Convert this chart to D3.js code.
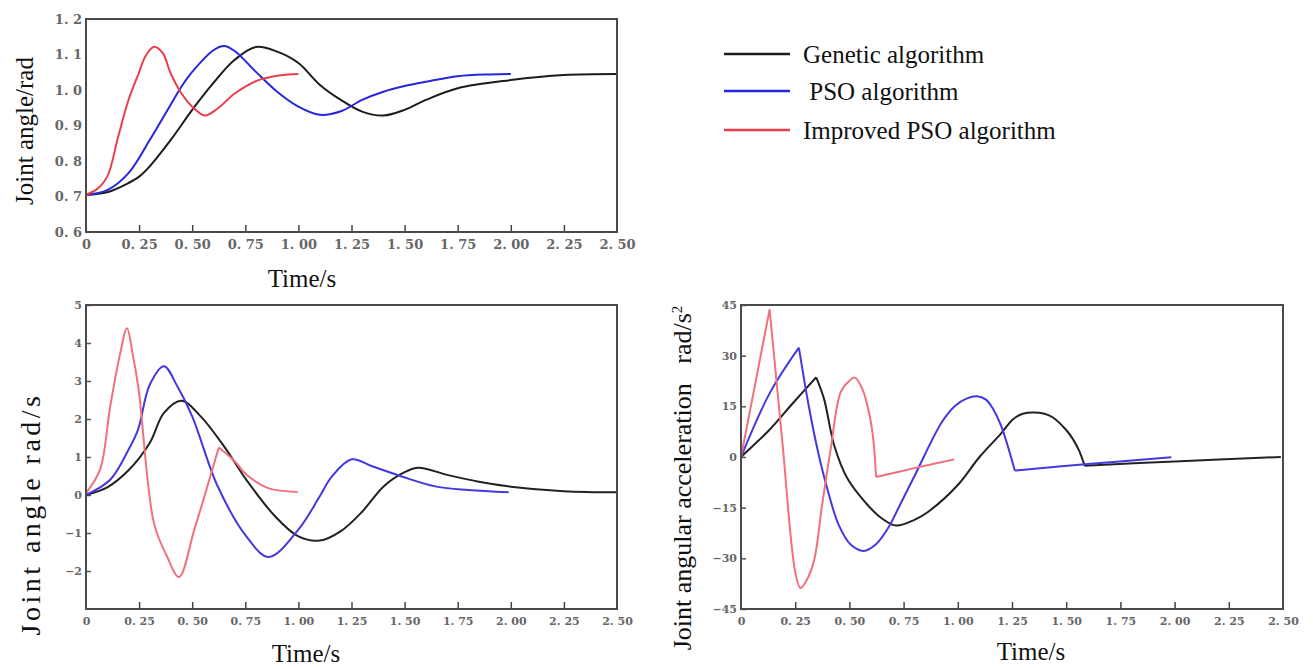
<!DOCTYPE html>
<html>
<head>
<meta charset="utf-8">
<script src="https://cdn.jsdelivr.net/npm/d3@7"></script>
<style>
  body { margin: 0; background: #fff; }
  svg { display: block; }
</style>
</head>
<body>
<div id="chart-area"></div>
<script>
// Data
// ****
const seriesNames = ["Genetic algorithm", " PSO algorithm", "Improved PSO algorithm"]
const xTicks = [0, 0.25, 0.5, 0.75, 1.0, 1.25, 1.5, 1.75, 2.0, 2.25, 2.5]

// joint angle (rad)
const angleTicks = [0.6, 0.7, 0.8, 0.9, 1.0, 1.1, 1.2]
const angleGA_t = [0, 0.1, 0.2, 0.25, 0.3, 0.4, 0.5, 0.6, 0.7, 0.8, 0.9, 1.0, 1.1, 1.2, 1.3, 1.4, 1.5, 1.6, 1.75, 2.0, 2.25, 2.5]
const angleGA   = [0.705, 0.712, 0.738, 0.756, 0.785, 0.86, 0.944, 1.02, 1.085, 1.121, 1.108, 1.076, 1.015, 0.972, 0.939, 0.928, 0.944, 0.972, 1.005, 1.028, 1.042, 1.045]
const anglePSO_t = [0, 0.1, 0.2, 0.3, 0.4, 0.45, 0.5, 0.6, 0.65, 0.7, 0.8, 0.9, 1.0, 1.1, 1.2, 1.3, 1.4, 1.5, 1.6, 1.75, 1.9, 2.0]
const anglePSO   = [0.705, 0.718, 0.766, 0.859, 0.96, 1.01, 1.051, 1.112, 1.124, 1.11, 1.051, 0.995, 0.953, 0.93, 0.94, 0.972, 0.995, 1.011, 1.023, 1.039, 1.044, 1.045]
const angleIPSO_t = [0, 0.05, 0.1, 0.15, 0.2, 0.25, 0.28, 0.32, 0.36, 0.4, 0.45, 0.5, 0.56, 0.62, 0.7, 0.8, 0.9, 1.0]
const angleIPSO   = [0.705, 0.72, 0.756, 0.865, 0.972, 1.05, 1.095, 1.122, 1.105, 1.045, 0.99, 0.953, 0.928, 0.948, 0.99, 1.025, 1.04, 1.045]

// joint angular velocity (rad/s)
const velTicks = [-2, -1, 0, 1, 2, 3, 4, 5]
const velGA_t = [0, 0.1, 0.2, 0.3, 0.367, 0.45, 0.54, 0.65, 0.755, 0.89, 1.0, 1.1, 1.2, 1.3, 1.4, 1.5, 1.565, 1.7, 1.85, 2.0, 2.25, 2.5]
const velGA   = [0, 0.2, 0.65, 1.37, 2.16, 2.48, 2.07, 1.28, 0.4, -0.56, -1.09, -1.2, -0.95, -0.44, 0.22, 0.6, 0.72, 0.53, 0.35, 0.22, 0.1, 0.07]
const velPSO_t = [0, 0.114, 0.2, 0.245, 0.3, 0.367, 0.43, 0.5, 0.62, 0.755, 0.86, 1.0, 1.1, 1.158, 1.251, 1.35, 1.49, 1.65, 1.8, 1.99]
const velPSO   = [0, 0.4, 1.19, 1.72, 2.9, 3.39, 2.86, 2.07, 0.23, -1.09, -1.63, -0.91, -0.04, 0.49, 0.94, 0.75, 0.48, 0.22, 0.13, 0.07]
const velIPSO_t = [0, 0.066, 0.114, 0.16, 0.193, 0.22, 0.248, 0.32, 0.38, 0.438, 0.51, 0.57, 0.625, 0.7, 0.755, 0.858, 0.997]
const velIPSO   = [0.05, 0.67, 2.33, 3.7, 4.39, 3.7, 2.77, -0.74, -1.6, -2.16, -0.91, 0.2, 1.25, 0.89, 0.54, 0.18, 0.08]
const velIPSO_kinks = [0.625]

// joint angular acceleration (rad/s^2); kinks = times of the sharp corners
const accTicks = [-45, -30, -15, 0, 15, 30, 45]
const accGA_t = [0, 0.07, 0.135, 0.243, 0.347, 0.383, 0.43, 0.491, 0.584, 0.65, 0.716, 0.8, 0.864, 1.0, 1.1, 1.2, 1.255, 1.3, 1.347, 1.4, 1.439, 1.5, 1.531, 1.56, 1.585, 2.0, 2.49]
const accGA   = [0, 4.2, 8.3, 16.2, 23.6, 17.2, 3.4, -6.4, -14.2, -18.2, -20.3, -18.6, -16.2, -8.3, 0, 7, 11.2, 12.8, 13.2, 12.8, 11.7, 8, 5.3, 1.8, -2.6, -1.3, 0]
const accGA_kinks = [0.347, 1.585]
const accPSO_t = [0, 0.135, 0.267, 0.31, 0.352, 0.39, 0.45, 0.507, 0.566, 0.62, 0.678, 0.74, 0.802, 0.926, 0.988, 1.04, 1.088, 1.13, 1.163, 1.2, 1.263, 1.6, 1.985]
const accPSO   = [0, 19.2, 32.4, 16, 2.5, -7.5, -20, -26, -27.8, -26, -21.1, -13.3, -5.4, 10.3, 15.2, 17.3, 18, 17, 14.2, 9.2, -4, -2.1, -0.1]
const accPSO_kinks = [0.267, 1.263]
const accIPSO_t = [0, 0.066, 0.132, 0.19, 0.25, 0.274, 0.3, 0.336, 0.374, 0.414, 0.46, 0.5, 0.525, 0.56, 0.59, 0.61, 0.623, 0.8, 0.984]
const accIPSO   = [0, 21.8, 43.7, 5, -34, -38.8, -36.8, -30.9, -14.2, 2.5, 19.2, 22.6, 23.5, 20.1, 13.3, 5.4, -5.9, -3.3, -0.7]
const accIPSO_kinks = [0.132, 0.623]

const zip = (t, v) => t.map((d, i) => ({t: d, v: v[i]}))

// Panels
// ******
const panels = [
  {
    box: {left: 86, right: 617, top: 19, bottom: 232},
    yDomain: [0.6, 1.2], yTicks: angleTicks, yFmt: d => d3.format(".1f")(d).replace(".", ". "),
    yTickLen: 0, fontSize: 13,
    series: [zip(angleGA_t, angleGA), zip(anglePSO_t, anglePSO), zip(angleIPSO_t, angleIPSO)],
    kinks: [[], [], []],
    colors: ["#1c1c1c", "#2626dc", "#e8404a"],
    yLabel: "Joint angle/rad", yLabelPos: [24, 131], yLabelSize: 25, yLabelSpacing: 0,
    xLabelPos: [302, 287]
  },
  {
    box: {left: 86, right: 617, top: 305, bottom: 609},
    yDomain: [-3, 5], yTicks: velTicks, yFmt: d => d < 0 ? "\u2212" + (-d) : String(d),
    yTickLen: 5, fontSize: 11,
    series: [zip(velGA_t, velGA), zip(velPSO_t, velPSO), zip(velIPSO_t, velIPSO)],
    kinks: [[], [], velIPSO_kinks],
    colors: ["#222", "#4438e0", "#f0707e"],
    yLabel: "Joint angle rad/s", yLabelPos: [30, 514], yLabelSize: 28, yLabelSpacing: 3.5,
    xLabelPos: [306, 662]
  },
  {
    box: {left: 741, right: 1283, top: 305, bottom: 609},
    yDomain: [-45, 45], yTicks: accTicks, yFmt: d => d < 0 ? "\u2212" + (-d) : String(d),
    yTickLen: 5, fontSize: 11,
    series: [zip(accGA_t, accGA), zip(accPSO_t, accPSO), zip(accIPSO_t, accIPSO)],
    kinks: [accGA_kinks, accPSO_kinks, accIPSO_kinks],
    colors: ["#222", "#4438e0", "#f0707e"],
    yLabel: "Joint angular acceleration\u00a0\u00a0 rad/s", yLabelSup: "2", yLabelPos: [682, 478], yLabelSize: 26, yLabelSpacing: 0,
    xLabelPos: [1031, 660]
  }
]

// Create SVG Canvas
// *****************
const svg = d3.select("#chart-area")
  .append("svg")
    .attr("width", 1313)
    .attr("height", 669)

panels.forEach(drawPanel)
drawLegend()

// split a series at its corner points so the smooth curve keeps them sharp
function splitAt(data, kinks) {
  const pieces = [[]]
  data.forEach(d => {
    pieces[pieces.length - 1].push(d)
    if (kinks.includes(d.t)) pieces.push([d])
  })
  return pieces.filter(p => p.length > 1)
}

function drawPanel(p) {
  const b = p.box
  const x = d3.scaleLinear().domain([0, 2.5]).range([b.left, b.right])
  const y = d3.scaleLinear().domain(p.yDomain).range([b.bottom, b.top])
  const g = svg.append("g")

  // Bottom Axis (ticks pointing inward)
  const bottomAxis = d3.axisBottom(x).tickValues(xTicks).tickSizeInner(-7).tickSizeOuter(0)
    .tickFormat(d => d === 0 ? "0" : d3.format(".2f")(d).replace(".", ". "))
  const ax = g.append("g")
    .attr("transform", "translate(0, " + b.bottom + ")")
    .call(bottomAxis)
  ax.select(".domain").remove()
  ax.selectAll("line").attr("stroke", "#444").attr("stroke-width", 1.5)
  ax.selectAll("text")
    .attr("y", 8)
    .attr("font-family", "DejaVu Serif")
    .attr("font-weight", "bold")
    .attr("font-size", p.fontSize)
    .attr("fill", "#666")
  ax.selectAll(".tick").filter(d => d === 0 || d === 2.5).select("line").remove()

  // Left Axis
  const leftAxis = d3.axisLeft(y).tickValues(p.yTicks).tickSizeInner(-p.yTickLen).tickSizeOuter(0)
    .tickFormat(p.yFmt)
  const ay = g.append("g")
    .attr("transform", "translate(" + b.left + ", 0)")
    .call(leftAxis)
  ay.select(".domain").remove()
  ay.selectAll("line").attr("stroke", "#555").attr("stroke-width", 1.5)
  ay.selectAll("text")
    .attr("x", -4)
    .attr("font-family", "DejaVu Serif")
    .attr("font-weight", "bold")
    .attr("font-size", p.fontSize)
    .attr("fill", "#666")

  // Lines
  const line = d3.line().x(d => x(d.t)).y(d => y(d.v)).curve(d3.curveCatmullRom.alpha(0.5))
  g.selectAll("path.series")
    .data(p.series)
    .enter()
    .append("path")
      .attr("class", "series")
      .attr("d", (d, i) => splitAt(d, p.kinks[i]).map(line).join(""))
      .attr("fill", "none")
      .attr("stroke", (d, i) => p.colors[i])
      .attr("stroke-width", 2)
      .attr("stroke-linejoin", "round")

  // Frame
  g.append("rect")
    .attr("x", b.left).attr("y", b.top)
    .attr("width", b.right - b.left).attr("height", b.bottom - b.top)
    .attr("fill", "none")
    .attr("stroke", "#4a4a4a")
    .attr("stroke-width", 2)

  // Labels
  const yl = g.append("text")
    .attr("transform", "translate(" + p.yLabelPos[0] + ", " + p.yLabelPos[1] + ") rotate(-90)")
    .attr("text-anchor", "middle")
    .attr("dy", "0.35em")
    .attr("font-family", "Liberation Serif")
    .attr("font-size", p.yLabelSize)
    .attr("letter-spacing", p.yLabelSpacing)
    .attr("fill", "#111")
    .text(p.yLabel)
  if (p.yLabelSup) {
    yl.append("tspan").attr("font-size", 15).attr("dy", "-0.6em").text(p.yLabelSup)
  }

  g.append("text")
    .attr("x", p.xLabelPos[0])
    .attr("y", p.xLabelPos[1])
    .attr("text-anchor", "middle")
    .attr("font-family", "Liberation Serif")
    .attr("font-size", 25)
    .attr("fill", "#111")
    .text("Time/s")
}

// Legend
// ******
function drawLegend() {
  const colors = ["#1c1c1c", "#2626dc", "#e8404a"]
  const rows = [54, 91, 130]
  const lg = svg.append("g")
  seriesNames.forEach((name, i) => {
    lg.append("line")
      .attr("x1", 724).attr("x2", 790)
      .attr("y1", rows[i]).attr("y2", rows[i])
      .attr("stroke", colors[i])
      .attr("stroke-width", 2.5)
    lg.append("text")
      .attr("x", 803)
      .attr("y", rows[i] + 9)
      .attr("font-family", "Liberation Serif")
      .attr("font-size", 25)
      .attr("fill", "#111")
      .attr("xml:space", "preserve")
      .style("white-space", "pre")
      .text(name)
  })
}
</script>
</body>
</html>
